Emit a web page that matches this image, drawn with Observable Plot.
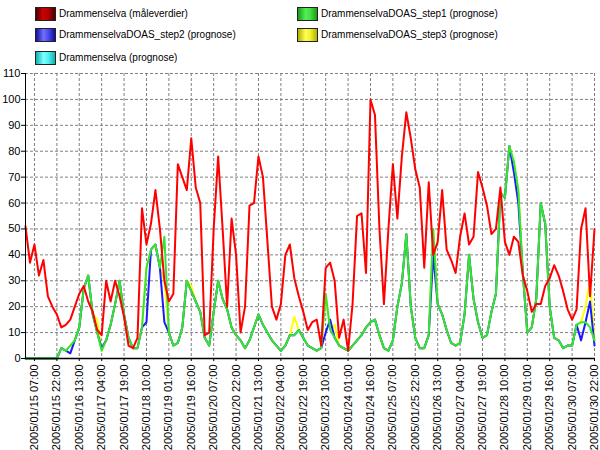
<!DOCTYPE html>
<html>
<head>
<meta charset="utf-8">
<script src="https://cdn.jsdelivr.net/npm/d3@7"></script>
<script src="https://cdn.jsdelivr.net/npm/@observablehq/plot@0.6"></script>
<style>
  html, body { margin: 0; padding: 0; background: #fff; }
  #wrap { position: relative; width: 600px; height: 450px; overflow: hidden; font-family: "Liberation Sans", Arial, sans-serif; }
  #legend { position: absolute; left: 0; top: 0; width: 600px; height: 66px; font-size: 10px; color: #000; z-index: 2; }
  #chart { position: absolute; left: 0; top: 0; }
  .item { position: absolute; height: 14px; line-height: 14px; white-space: nowrap; }
  .sw { position: absolute; left: 0; top: 0; width: 19px; height: 12px; border: 1px solid #222; }
  .lab { position: absolute; left: 24px; top: 0; }
</style>
</head>
<body>
<div id="wrap">
  <div id="chart"></div>
  <div id="legend"></div>
</div>
<script>
// ---- tick labels ----
const yTicks = [0, 10, 20, 30, 40, 50, 60, 70, 80, 90, 100, 110];
const xTickLabels = [
  "2005/01/15 07:00", "2005/01/15 22:00", "2005/01/16 13:00", "2005/01/17 04:00",
  "2005/01/17 19:00", "2005/01/18 10:00", "2005/01/19 01:00", "2005/01/19 16:00",
  "2005/01/20 07:00", "2005/01/20 22:00", "2005/01/21 13:00", "2005/01/22 04:00",
  "2005/01/22 19:00", "2005/01/23 10:00", "2005/01/24 01:00", "2005/01/24 16:00",
  "2005/01/25 07:00", "2005/01/25 22:00", "2005/01/26 13:00", "2005/01/27 04:00",
  "2005/01/27 19:00", "2005/01/28 10:00", "2005/01/29 01:00", "2005/01/29 16:00",
  "2005/01/30 07:00", "2005/01/30 22:00"
];
// ---- time axis: 3-hourly samples from 2005/01/15 01:00 ----
const startLabel = "2005/01/15 01:00";
const endLabel = "2005/01/30 22:40";
const stepHours = 3;

// ---- series names / colours ----
const seriesNames = [
  "Drammenselva (måleverdier)",
  "DrammenselvaDOAS_step1 (prognose)",
  "DrammenselvaDOAS_step2 (prognose)",
  "DrammenselvaDOAS_step3 (prognose)",
  "Drammenselva (prognose)"
];
const seriesColors = ["#ff0000", "#33e633", "#1a1aff", "#ffff00", "#00ffff"];

// ---- series values, one value every 3 hours ----
const measured = [
  51,37,44,32,38,24,20,17,12,13,15,20,25,28,22,18,11,9,30,22,30,24,16,
  5,4,8,58,44,52,65,50,30,22,25,75,70,65,85,66,60,9,10,50,
  78,50,20,54,40,10,20,59,60,78,70,45,20,15,21,40,44,31,24,18,11,14,
  15,5,35,37,30,8,15,3,21,55,56,33,100,94,50,21,50,75,54,78,95,
  85,73,66,35,68,40,45,65,42,38,33,47,56,44,47,72,66,59,48,50,66,
  45,40,47,45,32,26,18,21,21,28,31,36,32,26,19,15,19,50,58,24,50
];
const step1 = [
  0,0,0,0,0,0,0,0,
  4,3,5,7,12,27,32,17,10,3,7,13,21,30,17,
  8,4,4,12,35,42,44,35,47,10,5,6,12,30,26,22,18,8,5,18,30,
  23,19,12,9,7,4,7,12,17,13,10,7,5,3,5,9,9,11,8,5,4,
  3,4,25,11,8,5,4,3,5,7,9,12,14,15,9,4,3,7,20,29,48,
  20,8,4,4,9,50,21,17,11,6,5,6,17,40,23,14,8,9,18,25,64,
  62,82,76,65,33,10,12,23,60,52,20,8,7,4,5,5,13,14,14,12,7
];
const step2 = [
  0,0,0,0,0,0,0,0,
  4,3,2,7,12,27,32,17,10,4,7,13,21,30,17,
  8,4,4,12,14,42,44,35,14,10,5,6,12,30,26,22,18,8,5,18,30,
  23,19,12,9,7,4,7,12,17,13,10,7,5,3,5,9,9,11,8,5,4,
  3,4,10,15,8,5,4,3,5,7,9,12,14,15,9,4,3,7,20,29,48,
  20,8,4,4,9,40,21,17,11,6,5,6,17,40,23,14,8,9,18,25,64,
  62,82,72,60,33,10,12,23,60,52,20,8,7,4,5,5,13,7,14,22,5
];
const step3 = [
  0,0,0,0,0,0,0,0,
  4,3,5,7,12,27,32,17,15,3,7,13,21,30,17,
  8,4,4,12,35,42,44,35,30,10,5,6,12,30,28,22,18,8,5,18,30,
  23,19,12,9,7,4,7,12,17,13,10,7,5,3,5,9,16,11,8,5,4,
  3,4,25,11,13,5,4,3,5,7,9,12,14,15,9,4,3,7,20,29,48,
  20,8,4,4,9,50,21,17,11,6,5,6,17,40,23,14,8,9,18,25,64,
  62,82,76,65,33,10,12,23,60,52,20,8,7,4,5,5,13,14,20,30,7
];
const prognose = []; // no values drawn

// ---- build ----
const parse = d3.timeParse("%Y/%m/%d %H:%M");
const fmt = d3.timeFormat("%Y/%m/%d %H:%M");
const start = parse(startLabel);
const end = parse(endLabel);
const xTicks = xTickLabels.map(parse);
const toRows = (vals) => vals.map((v, i) => ({t: d3.timeHour.offset(start, stepHours * i), v}));

const seriesData = [measured, step1, step2, step3, prognose];

// legend
const swatchGradients = [
  "linear-gradient(to right, #4a0000 0%, #cc0000 35%, #b00000 65%, #4a0000 100%)",
  "linear-gradient(to right, #1a9a1a 0%, #55ee55 40%, #44dd44 65%, #1a9a1a 100%)",
  "linear-gradient(to right, #10109a 0%, #7070ff 40%, #4a4aee 65%, #10109a 100%)",
  "linear-gradient(to right, #b0b000 0%, #ffff55 40%, #f0f030 65%, #b0b000 100%)",
  "linear-gradient(to right, #10b0b0 0%, #80ffff 40%, #50f0f0 65%, #10b0b0 100%)"
];
const legendPos = [[35, 7], [297, 7], [35, 28], [297, 28], [35, 51]];
const legendOrder = [0, 1, 2, 3, 4];
const legend = document.getElementById("legend");
legendOrder.forEach((k, j) => {
  const it = document.createElement("div");
  it.className = "item";
  it.style.left = legendPos[j][0] + "px";
  it.style.top = legendPos[j][1] + "px";
  const sw = document.createElement("div");
  sw.className = "sw";
  sw.style.background = swatchGradients[k];
  const lab = document.createElement("div");
  lab.className = "lab";
  lab.textContent = seriesNames[k];
  it.appendChild(sw); it.appendChild(lab);
  legend.appendChild(it);
});

// draw order: step3, step2, step1, measured on top
const drawOrder = [4, 3, 2, 1, 0];
const lineMarks = drawOrder
  .filter(k => seriesData[k].length)
  .map(k => Plot.line(toRows(seriesData[k]), {
    x: "t", y: "v", stroke: seriesColors[k], strokeWidth: 2, strokeLinejoin: "round"
  }));

const chart = Plot.plot({
  width: 600,
  height: 450,
  marginTop: 73,
  marginBottom: 92,
  marginLeft: 25,
  marginRight: 5,
  style: {fontFamily: "'Liberation Sans', Arial, sans-serif", fontSize: "11px", color: "#000", background: "#fff"},
  x: {type: "time", domain: [start, end], label: null},
  y: {domain: [0, 110], label: null},
  marks: [
    Plot.gridX(xTicks, {stroke: "#808080", strokeOpacity: 1, strokeDasharray: "3,2"}),
    Plot.gridY(yTicks.filter(d => d > 0), {stroke: "#808080", strokeOpacity: 1, strokeDasharray: "3,2"}),
    ...lineMarks,
    Plot.ruleX([start], {stroke: "#000", strokeWidth: 1}),
    Plot.ruleY([0], {stroke: "#000", strokeWidth: 1.5}),
    Plot.axisX(xTicks, {tickFormat: fmt, tickRotate: -90, tickSize: 3, tickPadding: 3, label: null, stroke: "#000", fill: "#000"}),
    Plot.axisY(yTicks, {tickSize: 4, tickPadding: 1, label: null, stroke: "#000", fill: "#000"})
  ]
});
document.getElementById("chart").appendChild(chart);
</script>
</body>
</html>
